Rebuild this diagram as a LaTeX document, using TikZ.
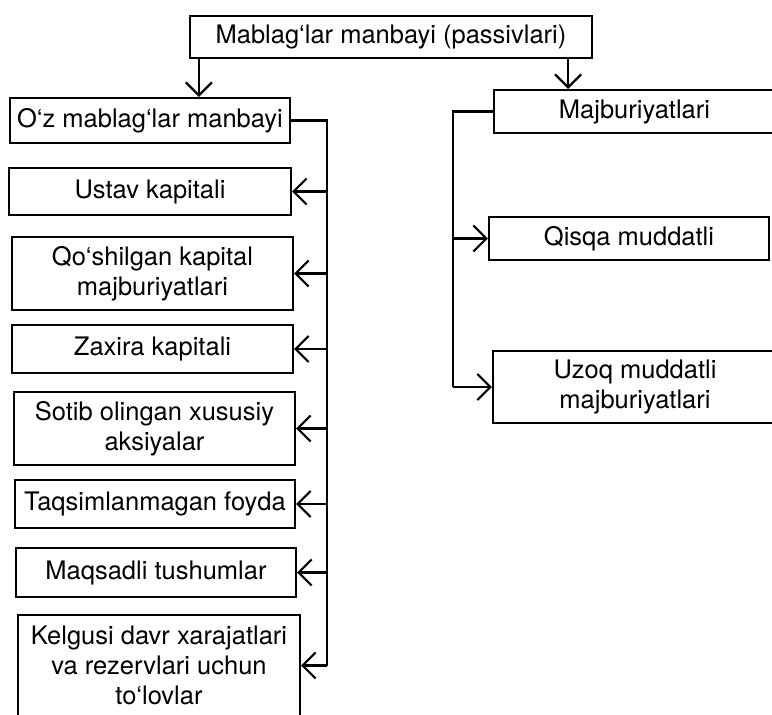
\documentclass[tikz,border=0pt]{standalone}
\usepackage{fontspec}
\setmainfont{TeX Gyre Heros}
\usetikzlibrary{arrows.meta}
\usetikzlibrary{positioning}
\tikzset{box/.style = {draw, line width=2.2pt, inner sep=0, align=center,
                       font=\fontsize{25.5}{30}\selectfont}}
\tikzset{arr/.style = {-{Straight Barb[length=13pt,width=26pt]}}}

\begin{document}
\begin{tikzpicture}[x=1pt, y=-1pt, line width=2.2pt]
    \clip (0,0) rectangle (772,715);
    \node [box, minimum width=402pt, minimum height=42pt] (top) at (391,37) {Mablag‘lar manbayi (passivlari)};
    \node [box, minimum width=280pt, minimum height=45pt] (own) at (150,120.5) {O‘z mablag‘lar manbayi};
    \node [box, minimum width=282pt, minimum height=47pt] (ustav) at (150,191.5) {Ustav kapitali};
    \node [box, minimum width=281pt, minimum height=73pt] (qosh) at (152.5,273.5) {Qo‘shilgan kapital\\majburiyatlari};
    \node [box, minimum width=281pt, minimum height=48pt] (zaxira) at (152.5,349) {Zaxira kapitali};
    \node [box, minimum width=281pt, minimum height=73pt] (sotib) at (154.5,428.5) {Sotib olingan xususiy\\aksiyalar};
    \node [box, minimum width=280pt, minimum height=48pt] (taqsim) at (155,504) {Taqsimlanmagan foyda};
    \node [box, minimum width=280pt, minimum height=49pt] (maqsad) at (156,572.5) {Maqsadli tushumlar};
    \node [box, minimum width=282pt, minimum height=101pt] (kelgusi) at (159,665.5) {Kelgusi davr xarajatlari\\va rezervlari uchun\\to‘lovlar};
    \node [box, minimum width=281pt, minimum height=43pt] (majb) at (634.5,111.5) {Majburiyatlari};
    \node [box, minimum width=280pt, minimum height=43pt] (qisqa) at (629,238.5) {Qisqa muddatli};
    \node [box, minimum width=284pt, minimum height=72pt] (uzoq) at (635,387) {Uzoq muddatli\\majburiyatlari};

    \draw [arr] ([xshift=10pt]top.south west) -- ([xshift=10pt]top.south west |- own.north);
    \draw [arr] ([xshift=-25pt]top.south east) -- ([xshift=-25pt]top.south east |- majb.north);

    \coordinate (lbus) at (327,120.5);
    \draw (own.east) -- (lbus) -- (lbus |- kelgusi.east);
    \foreach \n in {ustav, qosh, zaxira, sotib, taqsim, maqsad, kelgusi} {
      \draw [arr] (lbus |- \n.east) -- (\n.east);
    }

    \coordinate (rbus) at (453,111.5);
    \draw (majb.west) -- (rbus) -- (rbus |- uzoq.west);
    \foreach \n in {qisqa, uzoq} {
      \draw [arr] (rbus |- \n.west) -- (\n.west);
    }
\end{tikzpicture}
\end{document}
